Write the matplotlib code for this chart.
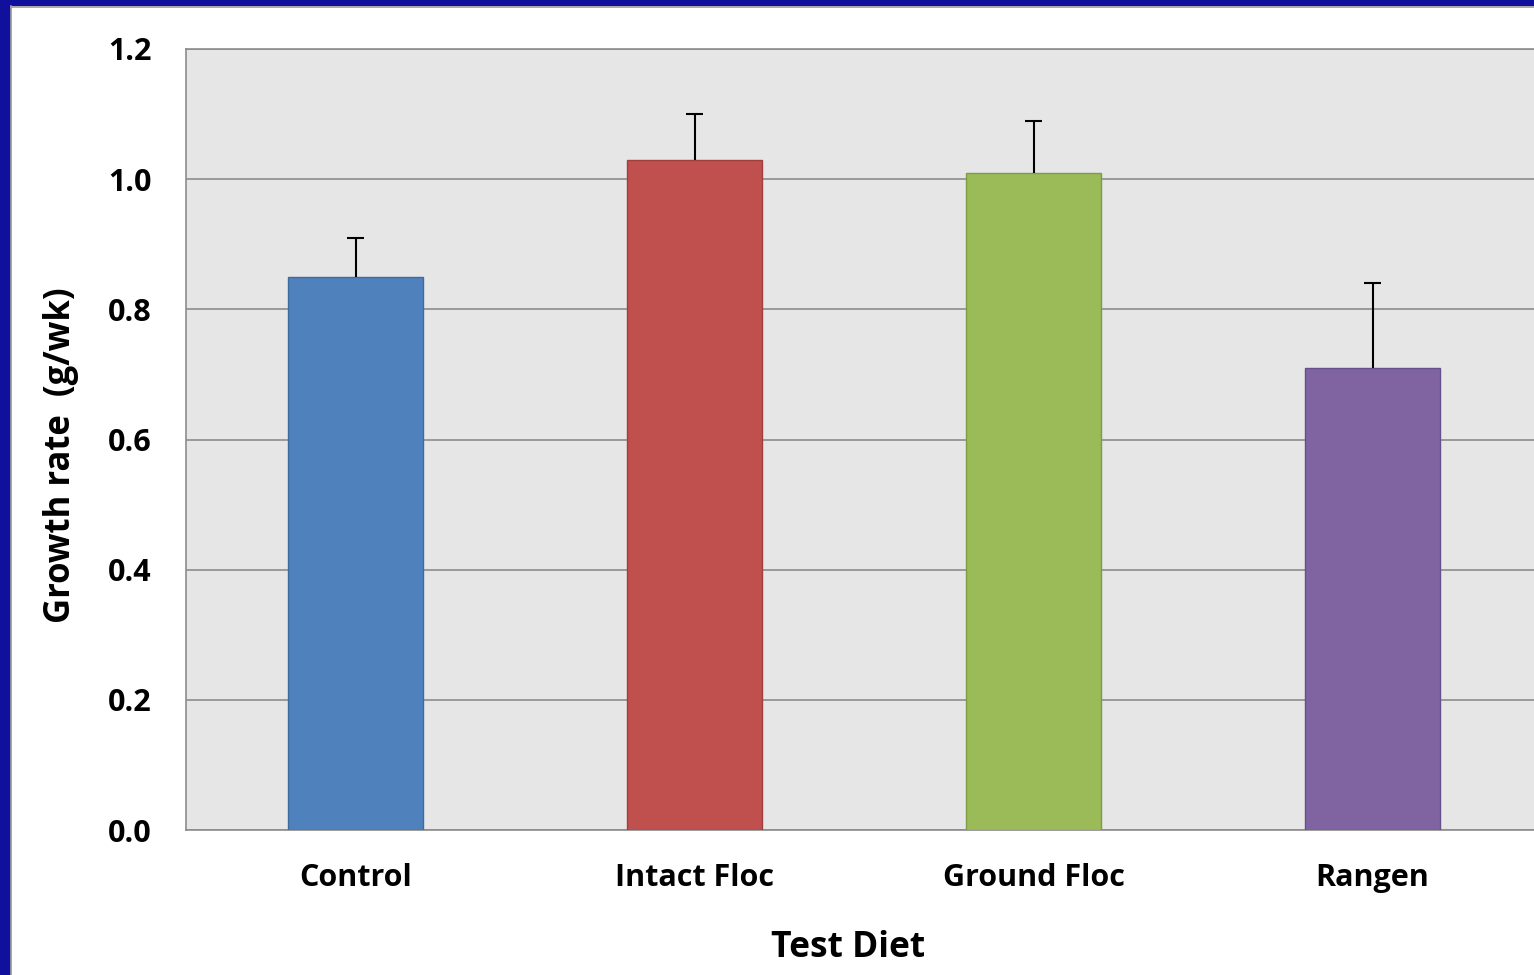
import matplotlib
matplotlib.use("Agg")
import matplotlib.pyplot as plt
from matplotlib.patches import Rectangle

categories = ["Control", "Intact Floc", "Ground Floc", "Rangen"]
values = [0.85, 1.03, 1.01, 0.71]
errors = [0.06, 0.07, 0.08, 0.13]
colors = ["#4F81BD", "#C0504D", "#9BBB59", "#8064A2"]
edges = ["#3F6C9F", "#A03F3C", "#7F9B45", "#66508A"]
yticks = [0.0, 0.2, 0.4, 0.6, 0.8, 1.0, 1.2]

W, H = 1534, 975
fig = plt.figure(figsize=(W / 100, H / 100), dpi=100)
fig.patch.set_facecolor("white")

# blue slide border
fig.add_artist(Rectangle((0, 0), 10 / W, 1, transform=fig.transFigure, color="#10109C", zorder=0))
fig.add_artist(Rectangle((0, 1 - 5 / H), 1, 5 / H, transform=fig.transFigure, color="#10109C", zorder=0))
fig.add_artist(plt.Line2D([11 / W, 11 / W], [0, 1 - 6 / H], transform=fig.transFigure, color="#A0A0A0", lw=1.2))
fig.add_artist(plt.Line2D([11 / W, 1], [1 - 6.5 / H, 1 - 6.5 / H], transform=fig.transFigure, color="#A0A0A0", lw=1.2))

left, right, top, bottom = 186, 1542, 49, 830
ax = fig.add_axes([left / W, 1 - bottom / H, (right - left) / W, (bottom - top) / H])
ax.set_facecolor("#E6E6E6")

x = list(range(len(categories)))
ax.bar(x, values, width=0.4, color=colors, edgecolor=edges, linewidth=1.0, zorder=3)
tops = [v + e for v, e in zip(values, errors)]
ax.vlines(x, values, tops, color="black", lw=1.5, zorder=4)
ax.hlines(tops, [i - 0.024 for i in x], [i + 0.024 for i in x], color="black", lw=1.5, zorder=4)

ax.set_xlim(-0.5, 3.5)
ax.set_ylim(0, 1.2)
ax.set_yticks(yticks)
ax.set_yticklabels([f"{v:.1f}" for v in yticks])
ax.set_xticks(x)
ax.set_xticklabels(categories)
ax.yaxis.grid(True, color="#8C8C8C", lw=1.2, zorder=1)
ax.set_axisbelow(True)
for s in ["top", "right", "bottom", "left"]:
    ax.spines[s].set_color("#8C8C8C")
    ax.spines[s].set_linewidth(1.2)
ax.tick_params(axis="both", length=0, labelsize=22, colors="black")
ax.tick_params(axis="y", pad=25)
ax.tick_params(axis="x", pad=24)
for lab in ax.get_xticklabels() + ax.get_yticklabels():
    lab.set_fontfamily("Open Sans")
    lab.set_fontweight("bold")

fig.text(848 / W, 1 - 948 / H, "Test Diet", ha="center", va="center",
         fontsize=25.5, fontweight="bold", family="Open Sans")
fig.text(61 / W, 1 - 455 / H, "Growth rate  (g/wk)", ha="center", va="center", rotation=90,
         fontsize=25, fontweight="bold", family="Open Sans")

fig.savefig("out.png", dpi=100)
